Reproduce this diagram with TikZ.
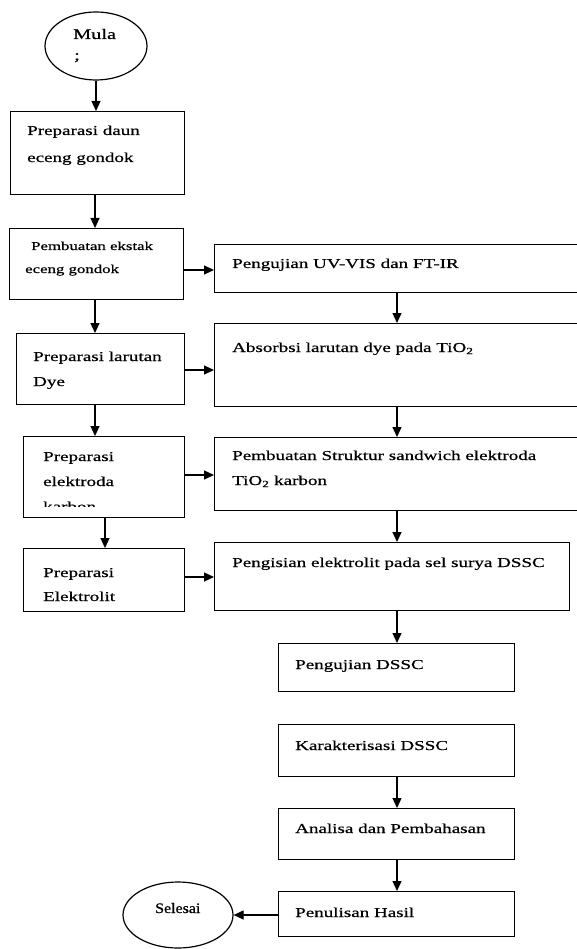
\documentclass[tikz,border=0pt]{standalone}
\usepackage{fontspec}
\setmainfont{Liberation Serif}
\newfontfamily\wideserif[FakeStretch=1.4,FakeBold=0.6]{Liberation Serif}
\newfontfamily\endserif[FakeStretch=1.1,FakeBold=0.8]{Liberation Serif}
\usetikzlibrary{arrows.meta,shapes.geometric}
\begin{document}
\begin{tikzpicture}[x=1pt,y=-1pt,
  bx/.style={draw, line width=1.2pt, inner sep=0pt, anchor=north west},
  arr/.style={line width=1.2pt, -{Triangle[length=10pt,width=9pt]}},
  txt/.style={anchor=base west, inner sep=0pt, font=\wideserif\fontsize{13.6}{16}\selectfont},
  stxt/.style={anchor=base west, inner sep=0pt, font=\wideserif\fontsize{12}{14}\selectfont},
  ov/.style={draw, ellipse, line width=1.2pt, inner sep=0pt}]
\clip (0,0) rectangle (577,949);
\fill[white] (0,0) rectangle (577,949);

% start / end ellipses
\node[ov, minimum width=102pt, minimum height=68pt] (mula) at (96,46) {};
\node[anchor=base west, inner sep=0pt, font=\wideserif\fontsize{14.5}{16}\selectfont] (mulaA) at (73,39) {Mula};
\node[anchor=base west, inner sep=0pt, font=\wideserif\fontsize{14.5}{16}\selectfont] (mulaB) at (74,60) {;};
\node[ov, minimum width=110pt, minimum height=66pt] (sel) at (178,915) {};
\node[anchor=base west, inner sep=0pt, font=\endserif\fontsize{14.5}{17}\selectfont] (selT) at (155,913) {Selesai};

% left column boxes
\node[bx, minimum width=174pt, minimum height=83pt] (b1) at (10,111) {};
\node[bx, minimum width=174pt, minimum height=71pt] (b2) at (9,228) {};
\node[bx, minimum width=168pt, minimum height=71pt] (b3) at (16,333) {};
\node[bx, minimum width=161pt, minimum height=81pt] (b4) at (23,436) {};
\node[bx, minimum width=161pt, minimum height=63pt] (b5) at (23,548) {};

% right column boxes
\node[bx, minimum width=366pt, minimum height=48pt] (r1) at (214,244) {};
\node[bx, minimum width=366pt, minimum height=83pt] (r2) at (214,323) {};
\node[bx, minimum width=366pt, minimum height=73pt] (r3) at (214,437) {};
\node[bx, minimum width=355pt, minimum height=68pt] (r4) at (214,542) {};
\node[bx, minimum width=236pt, minimum height=48pt] (p1) at (278,643) {};
\node[bx, minimum width=236pt, minimum height=52pt] (p2) at (278,724) {};
\node[bx, minimum width=236pt, minimum height=51pt] (p3) at (278,808) {};
\node[bx, minimum width=236pt, minimum height=45pt] (p4) at (278,891) {};

% texts
\node[txt] (b1a) at (27,135) {Preparasi daun};
\node[txt] (b1b) at (27,162) {eceng gondok};
\node[stxt] (b2a) at (31,250) {Pembuatan ekstak};
\node[stxt] (b2b) at (25,273) {eceng gondok};
\node[txt] (b3a) at (33,361) {Preparasi larutan};
\node[txt] (b3b) at (33,386) {Dye};
\node[txt] (b4a) at (43,461) {Preparasi};
\node[txt] (b4b) at (43,486) {elektroda};
\begin{scope}
\clip (23,436) rectangle (184,506);
\node[txt] (b4c) at (43,511) {karbon};
\end{scope}
\node[txt] (b5a) at (43,577) {Preparasi};
\node[txt] (b5b) at (43,601) {Elektrolit};

\node[txt] (r1a) at (232,268) {Pengujian UV-VIS dan FT-IR};
\node[txt] (r2a) at (232,352) {Absorbsi larutan dye pada TiO\textsubscript{2}};
\node[txt] (r3a) at (232,460) {Pembuatan Struktur sandwich elektroda};
\node[txt] (r3b) at (232,485) {TiO\textsubscript{2} karbon};
\node[txt] (r4a) at (232,567) {Pengisian elektrolit pada sel surya DSSC};
\node[txt] (p1a) at (295,669) {Pengujian DSSC};
\node[txt] (p2a) at (295,750) {Karakterisasi DSSC};
\node[txt] (p3a) at (295,833) {Analisa dan Pembahasan};
\node[txt] (p4a) at (295,917) {Penulisan Hasil};

% vertical arrows, left column
\draw[arr] (mula.south) -- (b1.north -| mula.south);
\draw[arr] (b1.south -| 95,0) -- (b2.north -| 95,0);
\draw[arr] (b2.south -| 95,0) -- (b3.north -| 95,0);
\draw[arr] (b3.south -| 95,0) -- (b4.north -| 95,0);
\draw[arr] (b4.south -| 105,0) -- (b5.north -| 105,0);

% horizontal arrows
\draw[arr] (b2.east |- 0,270) -- (r1.west |- 0,270);
\draw[arr] (b3.east |- 0,370) -- (r2.west |- 0,370);
\draw[arr] (b4.east |- 0,475) -- (r3.west |- 0,475);
\draw[arr] (b5.east |- 0,577) -- (r4.west |- 0,577);
\draw[arr] (p4.west |- sel.east) -- (sel.east);

% vertical arrows, right column
\draw[arr] (r1.south -| 397,0) -- (r2.north -| 397,0);
\draw[arr] (r2.south -| 397,0) -- (r3.north -| 397,0);
\draw[arr] (r3.south -| 397,0) -- (r4.north -| 397,0);
\draw[arr] (r4.south -| 397,0) -- (p1.north -| 397,0);
\draw[arr] (p2.south -| 397,0) -- (p3.north -| 397,0);
\draw[arr] (p3.south -| 397,0) -- (p4.north -| 397,0);
\end{tikzpicture}
\end{document}
